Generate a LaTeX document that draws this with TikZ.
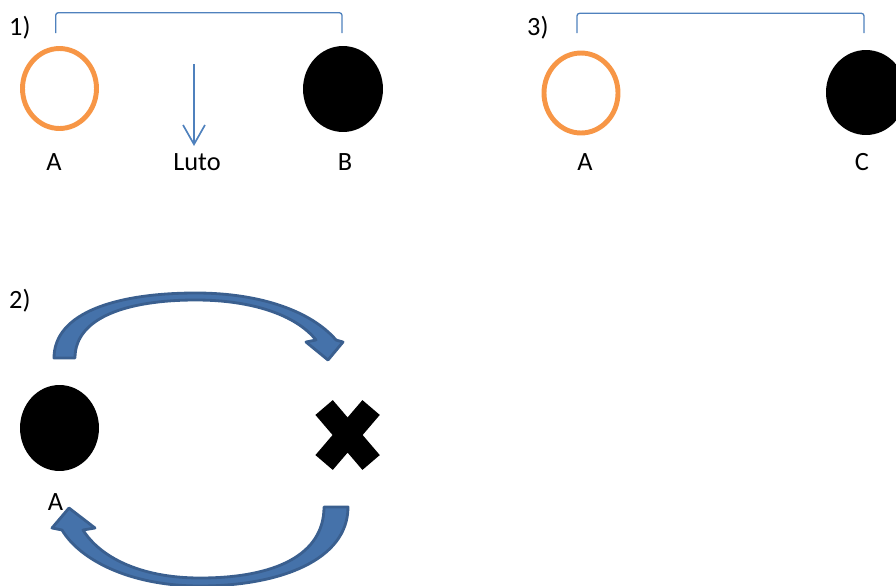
\documentclass[tikz,border=0pt]{standalone}
\usepackage{fontspec}
\setmainfont{Carlito}
\usetikzlibrary{arrows.meta,shapes.geometric,positioning}
\definecolor{accblue}{HTML}{4572AA}
\definecolor{accdark}{HTML}{3A5F8F}
\definecolor{linkblue}{HTML}{4F81BD}
\definecolor{accorange}{HTML}{F79646}
\tikzset{
  ring/.style={ellipse,draw=accorange,line width=2.8pt,minimum width=1.48cm,minimum height=1.6cm,inner sep=0},
  blob/.style={ellipse,fill=black,minimum width=1.6cm,minimum height=1.72cm,inner sep=0},
  lbl/.style={anchor=base,font=\fontsize{15}{18}\selectfont},
  num/.style={anchor=base west,font=\fontsize{15}{18}\selectfont},
  brace/.style={draw=linkblue,line width=0.75pt,rounded corners=1.5pt},
  bigarrow/.style={fill=accblue,draw=accdark,line width=1.6pt,line join=round},
  xarm/.style={line width=13pt,line cap=butt},
}
\begin{document}
\begin{tikzpicture}[x=0.02cm,y=-0.02cm]
\useasboundingbox (0,0) rectangle (896,585);
\clip (0,0) rectangle (896,585);
% 1)
\node[num] (n1) at (3,35) {1)};
\node[ring] (A1) at (59.5,88.5) {};
\node[blob] (B1) at (343,89) {};
\node[lbl] (lA1) at (54,170) {A};
\node[lbl] (luto) at (197,170) {Luto};
\node[lbl] (lB1) at (345,170) {B};
\coordinate (br1a) at (55.7,33);  \coordinate (br1b) at (342,33);
\coordinate (arrtop) at (194,64); \coordinate (arrtip) at (194,146);
\draw[brace] (br1a) |- (198,12.7) -| (br1b);
\draw[linkblue,line width=0.95pt,-{Straight Barb[length=11pt,width=12.5pt]}] (arrtop) -- (arrtip);
% 3)
\node[num] (n3) at (521,35) {3)};
\node[ring] (A3) at (581,93) {};
\node[blob,minimum height=1.7cm] (C3) at (866,92.5) {};
\node[lbl] (lA3) at (585,170) {A};
\node[lbl] (lC3) at (862,170) {C};
\coordinate (br3a) at (577,33);  \coordinate (br3b) at (864,33);
\draw[brace] (br3a) |- (720,13.3) -| (br3b);
% 2)
\node[num] (n2) at (3,308) {2)};
\node[blob,minimum width=1.58cm] (A2) at (59.5,428) {};
\node[lbl] (lA2) at (55.5,510) {A};
\node[minimum width=0.94cm,minimum height=1.1cm,inner sep=0,outer sep=0] (X2) at (347.6,435) {};
\draw[xarm] (X2.north west) -- (X2.south east) (X2.north east) -- (X2.south west);
\path[bigarrow] (54,358) .. controls (54,312) and (118,293) .. (196,293)
  .. controls (262,293) and (312,312) .. (336,340) -- (343,342) -- (328,360) -- (306,342) -- (316,340)
  .. controls (296,315) and (252,300) .. (196,300)
  .. controls (126,300) and (75,318) .. (75,358) -- cycle;
\path[bigarrow] (348,507) .. controls (348,560) and (280,586) .. (200,586)
  .. controls (130,586) and (80,560) .. (62,530) -- (52,528) -- (69,508) -- (95,528) -- (83,530)
  .. controls (100,557) and (140,578) .. (200,578)
  .. controls (275,578) and (324,555) .. (324,507) -- cycle;
\end{tikzpicture}
\end{document}
